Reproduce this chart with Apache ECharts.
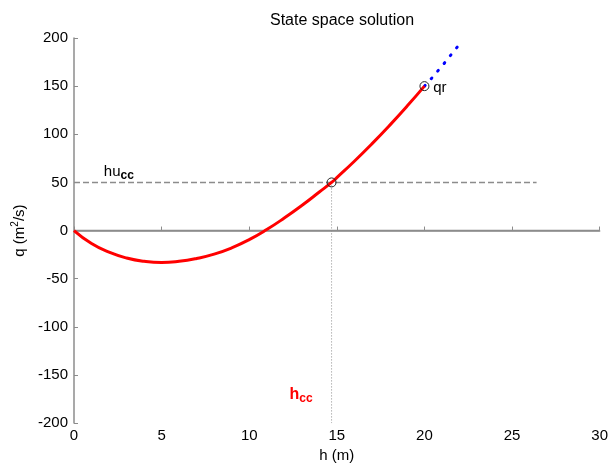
<!DOCTYPE html>
<html>
<head>
<meta charset="utf-8">
<script src="https://cdn.jsdelivr.net/npm/echarts@6/dist/echarts.min.js"></script>
<style>
html, body { margin: 0; padding: 0; background: #fff; }
#main { width: 611px; height: 468px; }
</style>
</head>
<body>
<div id="main"></div>
<script>
// state space solution curve q(h)
const hValues = [0, 1, 2, 3, 4, 5, 6, 7, 8, 9, 10, 11, 12, 13, 14, 14.7, 15, 16, 17, 18, 19, 20];
const qValues = [0, -13.5, -22.5, -28.5, -32, -33.3, -32, -29, -24.5, -18, -9.5, 1, 13, 26, 40, 50, 55, 72, 90, 109, 129, 150];

// blue dotted continuation past qr
const extH = [20, 20.4, 20.75, 21.1, 21.45, 21.8, 22.15];
const extQ = [150, 158, 165.5, 173, 181, 189, 197];

// critical point and the qr point
const ccPoint = [14.7, 50];
const qrPoint = [20, 150];
const huccEnd = 26.4;

// text annotations [h, q, text]
const notes = [
    [1.7, 61, 'hu'],
    [12.3, -170, 'h'],
    [20.5, 148, 'qr']
];

const xMin = 0, xMax = 30, xStep = 5;
const yMin = -200, yMax = 200, yStep = 50;

const font = 'Liberation Sans, Arial, sans-serif';
const gray = '#8c8c8c';

let myChart = echarts.init(document.getElementById('main'));

let option = {
    animation: false,
    title: {
        text: 'State space solution',
        left: 337,
        top: 8,
        textAlign: 'center',
        textStyle: { fontFamily: font, fontSize: 16, fontWeight: 'normal', color: '#000' }
    },
    grid: { left: 74, right: 10, top: 38, bottom: 41 },
    xAxis: {
        type: 'value',
        min: xMin, max: xMax, interval: xStep,
        name: 'h (m)',
        nameLocation: 'middle',
        nameGap: 22,
        nameTextStyle: { fontFamily: font, fontSize: 15, color: '#000' },
        axisLine: { lineStyle: { color: gray, width: 1.5 } },
        axisTick: { inside: true, length: 4, lineStyle: { color: gray } },
        axisLabel: { fontFamily: font, fontSize: 15, color: '#000', margin: 5 },
        splitLine: { show: false }
    },
    yAxis: {
        type: 'value',
        min: yMin, max: yMax, interval: yStep,
        name: 'q (m{sup|2}/s)',
        nameLocation: 'middle',
        nameGap: 44,
        nameTextStyle: {
            fontFamily: font, fontSize: 15, color: '#000',
            rich: { sup: { fontFamily: font, fontSize: 10, color: '#000', verticalAlign: 'top', padding: [0, 0, 8, 0] } }
        },
        axisLine: { onZero: false, lineStyle: { color: gray, width: 1.5 } },
        axisTick: { inside: true, length: 4, lineStyle: { color: gray } },
        axisLabel: { fontFamily: font, fontSize: 15, color: '#000', margin: 6 },
        splitLine: { show: false }
    },
    series: [
        {
            // zero line
            type: 'line',
            data: [[xMin, 0], [xMax, 0]],
            symbol: 'none',
            lineStyle: { color: gray, width: 1.5 },
            z: 1
        },
        {
            // hu_cc level
            type: 'line',
            data: [[0, ccPoint[1]], [huccEnd, ccPoint[1]]],
            symbol: 'none',
            lineStyle: { color: gray, width: 1.5, type: [6, 3] },
            z: 1
        },
        {
            // h_cc drop line
            type: 'line',
            data: [ccPoint, [ccPoint[0], yMin]],
            symbol: 'none',
            lineStyle: { color: gray, width: 1, type: [1, 2] },
            z: 1
        },
        {
            type: 'line',
            data: extH.map((h, i) => [h, extQ[i]]),
            symbol: 'none',
            lineStyle: { color: '#0000ff', width: 3, type: [1, 9], cap: 'round' },
            z: 2
        },
        {
            type: 'line',
            data: hValues.map((h, i) => [h, qValues[i]]),
            symbol: 'none',
            smooth: true,
            lineStyle: { color: '#ff0000', width: 3 },
            z: 3
        },
        {
            type: 'scatter',
            data: [ccPoint, qrPoint],
            symbol: 'circle',
            symbolSize: 9,
            itemStyle: { color: 'transparent', borderColor: '#222', borderWidth: 1, opacity: 1 },
            z: 4
        },
        {
            type: 'scatter',
            data: notes,
            symbolSize: 0,
            itemStyle: { opacity: 1 },
            z: 5,
            label: {
                show: true,
                position: 'right',
                distance: 0,
                fontFamily: font,
                formatter: function (p) {
                    const t = p.data[2];
                    if (t === 'hu') return '{a|hu}{s|cc}';
                    if (t === 'h') return '{r|h}{rs|cc}';
                    return '{a|qr}';
                },
                rich: {
                    a: { fontFamily: font, fontSize: 15, color: '#000' },
                    s: { fontFamily: font, fontSize: 12, fontWeight: 'bold', color: '#000', verticalAlign: 'bottom', padding: [8, 0, 0, 0] },
                    r: { fontFamily: font, fontSize: 16, fontWeight: 'bold', color: '#ff0000' },
                    rs: { fontFamily: font, fontSize: 12, fontWeight: 'bold', color: '#ff0000', verticalAlign: 'bottom', padding: [8, 0, 0, 0] }
                }
            }
        }
    ]
};

myChart.setOption(option);
</script>
</body>
</html>
